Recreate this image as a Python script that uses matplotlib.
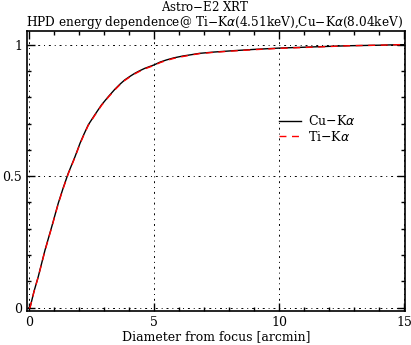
import matplotlib
matplotlib.use('Agg')
import matplotlib.pyplot as plt
from matplotlib.ticker import MultipleLocator

# encircled energy
diam_cu = [0.0, 0.04, 0.2, 0.37, 0.64, 0.91, 1.17, 1.37, 1.57, 1.84, 2.04, 2.2,
           2.37, 2.63, 2.9, 3.17, 3.43, 3.63, 3.83, 4.03, 4.23, 4.43, 4.63,
           5.0, 5.25, 5.5, 5.8, 6.16, 6.5, 6.82, 7.4, 8.15, 9.0, 10.0,
           11.5, 12.8, 14.0, 14.8, 15.0]
frac_cu = [0.0, 0.0, 0.062, 0.118, 0.219, 0.308, 0.397, 0.456, 0.511, 0.574,
           0.625, 0.660, 0.695, 0.733, 0.771, 0.802, 0.830, 0.849, 0.866,
           0.879, 0.891, 0.901, 0.910, 0.923, 0.934, 0.942, 0.950, 0.957,
           0.962, 0.967, 0.972, 0.977, 0.982, 0.987, 0.992, 0.996, 0.998,
           1.0, 1.0]
diam_ti = list(diam_cu)
frac_ti = [0.0, 0.0, 0.061, 0.117, 0.217, 0.306, 0.395, 0.454, 0.509, 0.572,
           0.623, 0.658, 0.693, 0.731, 0.769, 0.800, 0.828, 0.847, 0.864,
           0.877, 0.889, 0.899, 0.908, 0.921, 0.932, 0.940, 0.948, 0.955,
           0.961, 0.966, 0.971, 0.976, 0.981, 0.986, 0.991, 0.996, 0.998,
           1.0, 1.0]

plt.rcParams['font.family'] = ['DejaVu Serif']
fig = plt.figure(figsize=(4.11, 3.45), dpi=100)
ax = fig.add_axes([27/411, 1-311/345, 378/411, 280/345])

ax.plot(diam_cu, frac_cu, color='black', lw=1.0, label='Cu$-$K$\\alpha$')
ax.plot(diam_ti, frac_ti, color='red', lw=1.0, ls=(0, (5, 4)), label='Ti$-$K$\\alpha$')

ax.set_xlim(-0.08, 15.04)
ax.set_ylim(-0.0125, 1.052)
ax.xaxis.set_major_locator(MultipleLocator(5))
ax.xaxis.set_minor_locator(MultipleLocator(1))
ax.yaxis.set_major_locator(MultipleLocator(0.5))
ax.yaxis.set_minor_locator(MultipleLocator(0.1))
ax.set_yticks([0, 0.5, 1])
ax.set_yticklabels(['0', '0.5', '1'])
ax.tick_params(which='both', direction='in', top=True, right=True,
               labelsize=9, width=1)
ax.tick_params(which='major', length=6)
ax.tick_params(which='minor', length=3)
for s in ax.spines.values():
    s.set_linewidth(1.2)
ax.grid(True, which='major', color='black', lw=0.7, ls=(0, (2, 4, 1, 4)))

ax.set_xlabel('Diameter from focus [arcmin]', fontsize=9, labelpad=1)
fig.text(0.5, 0.979, 'Astro$-$E2 XRT', ha='center', va='center', fontsize=8.5)
fig.text(0.523, 0.936, 'HPD energy dependence@ Ti$-$K$\\alpha$(4.51keV),Cu$-$K$\\alpha$(8.04keV)',
         ha='center', va='center', fontsize=8.7)

ax.legend(loc='center left', bbox_to_anchor=(0.65, 0.65), frameon=False,
          fontsize=9, handlelength=1.8, handletextpad=0.5, labelspacing=0.1,
          borderpad=0)

fig.savefig('out.png', dpi=100)
